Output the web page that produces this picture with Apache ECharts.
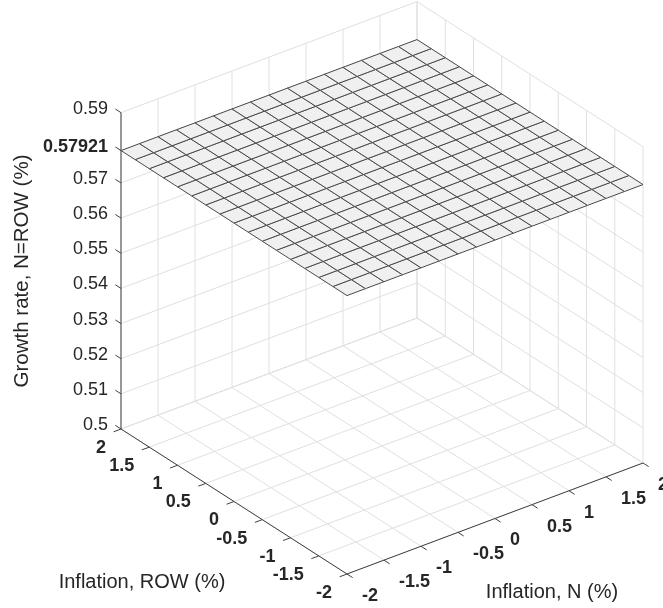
<!DOCTYPE html>
<html>
<head>
<meta charset="utf-8">
<script src="https://cdn.jsdelivr.net/npm/echarts@6/dist/echarts.min.js"></script>
<style>
html,body{margin:0;padding:0;background:#fff;}
#chart{width:663px;height:608px;}
</style>
</head>
<body>
<div id="chart"></div>
<script>
// ---------------- data ----------------
const inflationN   = [-2, -1.75, -1.5, -1.25, -1, -0.75, -0.5, -0.25, 0, 0.25, 0.5, 0.75, 1, 1.25, 1.5, 1.75, 2];
const inflationROW = [-2, -1.75, -1.5, -1.25, -1, -0.75, -0.5, -0.25, 0, 0.25, 0.5, 0.75, 1, 1.25, 1.5, 1.75, 2];
// growth rate (rows = ROW, cols = N)
const growthRate = [
  [0.57921,0.57921,0.57921,0.57921,0.57921,0.57921,0.57921,0.57921,0.57921,0.57921,0.57921,0.57921,0.57921,0.57921,0.57921,0.57921,0.57921],
  [0.57921,0.57921,0.57921,0.57921,0.57921,0.57921,0.57921,0.57921,0.57921,0.57921,0.57921,0.57921,0.57921,0.57921,0.57921,0.57921,0.57921],
  [0.57921,0.57921,0.57921,0.57921,0.57921,0.57921,0.57921,0.57921,0.57921,0.57921,0.57921,0.57921,0.57921,0.57921,0.57921,0.57921,0.57921],
  [0.57921,0.57921,0.57921,0.57921,0.57921,0.57921,0.57921,0.57921,0.57921,0.57921,0.57921,0.57921,0.57921,0.57921,0.57921,0.57921,0.57921],
  [0.57921,0.57921,0.57921,0.57921,0.57921,0.57921,0.57921,0.57921,0.57921,0.57921,0.57921,0.57921,0.57921,0.57921,0.57921,0.57921,0.57921],
  [0.57921,0.57921,0.57921,0.57921,0.57921,0.57921,0.57921,0.57921,0.57921,0.57921,0.57921,0.57921,0.57921,0.57921,0.57921,0.57921,0.57921],
  [0.57921,0.57921,0.57921,0.57921,0.57921,0.57921,0.57921,0.57921,0.57921,0.57921,0.57921,0.57921,0.57921,0.57921,0.57921,0.57921,0.57921],
  [0.57921,0.57921,0.57921,0.57921,0.57921,0.57921,0.57921,0.57921,0.57921,0.57921,0.57921,0.57921,0.57921,0.57921,0.57921,0.57921,0.57921],
  [0.57921,0.57921,0.57921,0.57921,0.57921,0.57921,0.57921,0.57921,0.57921,0.57921,0.57921,0.57921,0.57921,0.57921,0.57921,0.57921,0.57921],
  [0.57921,0.57921,0.57921,0.57921,0.57921,0.57921,0.57921,0.57921,0.57921,0.57921,0.57921,0.57921,0.57921,0.57921,0.57921,0.57921,0.57921],
  [0.57921,0.57921,0.57921,0.57921,0.57921,0.57921,0.57921,0.57921,0.57921,0.57921,0.57921,0.57921,0.57921,0.57921,0.57921,0.57921,0.57921],
  [0.57921,0.57921,0.57921,0.57921,0.57921,0.57921,0.57921,0.57921,0.57921,0.57921,0.57921,0.57921,0.57921,0.57921,0.57921,0.57921,0.57921],
  [0.57921,0.57921,0.57921,0.57921,0.57921,0.57921,0.57921,0.57921,0.57921,0.57921,0.57921,0.57921,0.57921,0.57921,0.57921,0.57921,0.57921],
  [0.57921,0.57921,0.57921,0.57921,0.57921,0.57921,0.57921,0.57921,0.57921,0.57921,0.57921,0.57921,0.57921,0.57921,0.57921,0.57921,0.57921],
  [0.57921,0.57921,0.57921,0.57921,0.57921,0.57921,0.57921,0.57921,0.57921,0.57921,0.57921,0.57921,0.57921,0.57921,0.57921,0.57921,0.57921],
  [0.57921,0.57921,0.57921,0.57921,0.57921,0.57921,0.57921,0.57921,0.57921,0.57921,0.57921,0.57921,0.57921,0.57921,0.57921,0.57921,0.57921],
  [0.57921,0.57921,0.57921,0.57921,0.57921,0.57921,0.57921,0.57921,0.57921,0.57921,0.57921,0.57921,0.57921,0.57921,0.57921,0.57921,0.57921]
];
const nTicks      = [-2, -1.5, -1, -0.5, 0, 0.5, 1, 1.5, 2];
const nTickLabels = ['-2', '-1.5', '-1', '-0.5', '0', '0.5', '1', '1.5', '2'];
const rowTicks      = [-2, -1.5, -1, -0.5, 0, 0.5, 1, 1.5, 2];
const rowTickLabels = ['-2', '-1.5', '-1', '-0.5', '0', '0.5', '1', '1.5', '2'];
const zTicks      = [0.5, 0.51, 0.52, 0.53, 0.54, 0.55, 0.56, 0.57, 0.57921, 0.59];
const zTickLabels = ['0.5', '0.51', '0.52', '0.53', '0.54', '0.55', '0.56', '0.57', '0.57921', '0.59'];
const zBoldTick = 0.57921;
const nRange = [-2, 2], rowRange = [-2, 2], zRange = [0.5, 0.59];
const xTitle = 'Inflation, N (%)';
const yTitle = 'Inflation, ROW (%)';
const zTitle = 'Growth rate, N=ROW (%)';

// ---------------- view (layout) ----------------
const ORIGIN = [347, 574];       // screen position of (nMin,rowMin,zMin)
const EN = [74.0, -27.75];       // screen step per unit of N
const ER = [-56.5, -36.25];      // screen step per unit of ROW
const EZ = -3515;                // screen step per unit of z
function proj(n, r, z) {
  const dn = n - nRange[0], dr = r - rowRange[0], dz = z - zRange[0];
  return [ORIGIN[0] + dn * EN[0] + dr * ER[0], ORIGIN[1] + dn * EN[1] + dr * ER[1] + dz * EZ];
}
const TICK = 0.1;
const FONT = 'Liberation Sans, Arial, Helvetica, sans-serif';
const TXT = '#262626';

// ---------------- build segment lists ----------------
const [n0, n1] = nRange, [r0, r1] = rowRange, [z0, z1] = zRange;
const gridSegs = [];
nTicks.forEach(n => gridSegs.push([n, r0, z0, n, r1, z0]));
rowTicks.forEach(r => gridSegs.push([n0, r, z0, n1, r, z0]));
nTicks.forEach(n => gridSegs.push([n, r1, z0, n, r1, z1]));
zTicks.forEach(z => gridSegs.push([n0, r1, z, n1, r1, z]));
rowTicks.forEach(r => gridSegs.push([n1, r, z0, n1, r, z1]));
zTicks.forEach(z => gridSegs.push([n1, r0, z, n1, r1, z]));

const axisSegs = [];
axisSegs.push([n0, r1, z0, n0, r1, z1]);
axisSegs.push([n0, r0, z0, n0, r1, z0]);
axisSegs.push([n0, r0, z0, n1, r0, z0]);
zTicks.forEach(z => axisSegs.push([n0, r1, z, n0, r1 + TICK, z]));
rowTicks.forEach(r => axisSegs.push([n0, r, z0, n0 - TICK, r, z0]));
nTicks.forEach(n => axisSegs.push([n, r0, z0, n, r0 - TICK, z0]));

const cells = [];
for (let i = 0; i < inflationROW.length - 1; i++) {
  for (let j = 0; j < inflationN.length - 1; j++) {
    cells.push([
      inflationN[j], inflationROW[i], growthRate[i][j],
      inflationN[j + 1], inflationROW[i], growthRate[i][j + 1],
      inflationN[j + 1], inflationROW[i + 1], growthRate[i + 1][j + 1],
      inflationN[j], inflationROW[i + 1], growthRate[i + 1][j]
    ]);
  }
}

const labels = [];
zTicks.forEach((z, k) => labels.push({ value: [n0, r1, z], txt: zTickLabels[k], dx: -13, dy: -4, align: 'right', bold: z === zBoldTick }));
rowTicks.forEach((r, k) => labels.push({ value: [n0, r, z0], txt: rowTickLabels[k], dx: -15, dy: 19, align: 'right', bold: true }));
nTicks.forEach((n, k) => labels.push({ value: [n, r0, z0], txt: nTickLabels[k], dx: 15, dy: 22, align: 'left', bold: true }));

function segRenderer(color, width) {
  return function (params, api) {
    const a = proj(api.value(0), api.value(1), api.value(2));
    const b = proj(api.value(3), api.value(4), api.value(5));
    const p1 = api.coord(a), p2 = api.coord(b);
    return { type: 'line', shape: { x1: p1[0], y1: p1[1], x2: p2[0], y2: p2[1] },
      style: { stroke: color, lineWidth: width, fill: null } };
  };
}

const chart = echarts.init(document.getElementById('chart'), null, { renderer: 'canvas' });
chart.setOption({
  animation: false,
  backgroundColor: '#ffffff',
  grid: { left: 0, right: 0, top: 0, bottom: 0 },
  xAxis: { type: 'value', min: 0, max: 663, show: false },
  yAxis: { type: 'value', min: 0, max: 608, inverse: true, show: false },
  series: [
    { type: 'custom', data: gridSegs, renderItem: segRenderer('#e0e0e0', 1), silent: true, z: 1 },
    { type: 'custom', data: axisSegs, renderItem: segRenderer('#404040', 1), silent: true, z: 2 },
    { type: 'custom', data: cells, silent: true, z: 3,
      renderItem: function (params, api) {
        const pts = [];
        for (let k = 0; k < 4; k++) {
          pts.push(api.coord(proj(api.value(3 * k), api.value(3 * k + 1), api.value(3 * k + 2))));
        }
        return { type: 'polygon', shape: { points: pts },
          style: { fill: '#f0f0f0', stroke: '#4a4a4a', lineWidth: 1 } };
      } },
    { type: 'custom', data: labels, silent: true, z: 4,
      renderItem: function (params, api) {
        const it = labels[params.dataIndex];
        const p = api.coord(proj(api.value(0), api.value(1), api.value(2)));
        return { type: 'text', x: p[0] + it.dx, y: p[1] + it.dy,
          style: { text: it.txt, fill: TXT, font: (it.bold ? 'bold ' : '') + '18px ' + FONT,
            align: it.align, verticalAlign: 'middle' } };
      } }
  ],
  graphic: [
    { type: 'text', x: 142, y: 582, style: { text: yTitle, fill: TXT, font: '20px ' + FONT, align: 'center', verticalAlign: 'middle' } },
    { type: 'text', x: 552, y: 592, style: { text: xTitle, fill: TXT, font: '20px ' + FONT, align: 'center', verticalAlign: 'middle' } },
    { type: 'text', x: 22, y: 271, rotation: Math.PI / 2, style: { text: zTitle, fill: TXT, font: '20.5px ' + FONT, align: 'center', verticalAlign: 'middle' } }
  ]
});
</script>
</body>
</html>
